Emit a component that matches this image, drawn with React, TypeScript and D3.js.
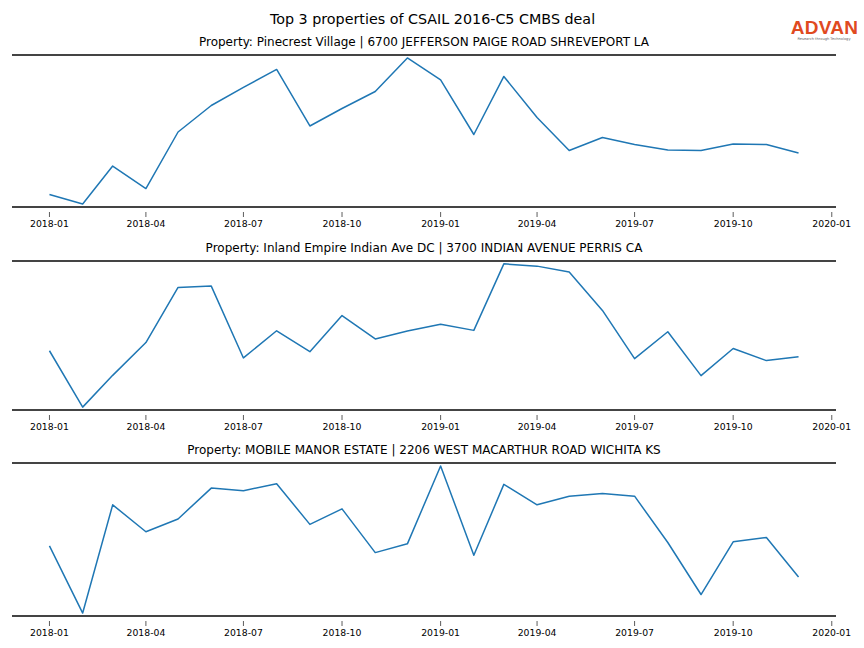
import React from "react";
import * as d3 from "d3";

const MONTHS: string[] = [
  "2018-01", "2018-02", "2018-03", "2018-04", "2018-05", "2018-06",
  "2018-07", "2018-08", "2018-09", "2018-10", "2018-11", "2018-12",
  "2019-01", "2019-02", "2019-03", "2019-04", "2019-05", "2019-06",
  "2019-07", "2019-08", "2019-09", "2019-10", "2019-11", "2019-12",
];

const TITLE = "Top 3 properties of CSAIL 2016-C5 CMBS deal";

const PROPERTY_TITLES: string[] = [
  "Property: Pinecrest Village | 6700 JEFFERSON PAIGE ROAD SHREVEPORT LA",
  "Property: Inland Empire Indian Ave DC | 3700 INDIAN AVENUE PERRIS CA",
  "Property: MOBILE MANOR ESTATE | 2206 WEST MACARTHUR ROAD WICHITA KS",
];

// relative visit index per month
const PINECREST: number[] = [
  12, 2.5, 40.5, 18, 74.5, 101, 119, 137, 80.5, 98, 115, 148.5,
  126.5, 72, 130, 89, 56, 69, 62, 56.5, 56, 62.5, 62, 53.5,
];
const INLAND_EMPIRE: number[] = [
  59, 1.7, 34, 67.3, 123.3, 124.7, 51.7, 79.3, 58, 94.7, 71, 79,
  86, 79.7, 147.3, 145, 139, 100, 51, 78.3, 33.7, 61.3, 49, 53,
];
const MOBILE_MANOR: number[] = [
  70, 3.3, 110.7, 84, 96.7, 127.3, 124.7, 131.7, 91.3, 106.7, 63.3, 72,
  149.3, 60.7, 131, 110.7, 119.3, 122, 119.3, 73.3, 21.7, 74, 78.3, 39,
];

const SERIES: number[][] = [PINECREST, INLAND_EMPIRE, MOBILE_MANOR];

const TICK_FORMAT = d3.timeFormat("%Y-%m");

const W = 864;
const H = 648;
const LEFT = 12;
const RIGHT = 836;
const PANEL_TOP: number[] = [55, 261, 463];
const PANEL_BOTTOM: number[] = [207, 410, 616];

export default function App() {
  const parse = d3.timeParse("%Y-%m");
  const dates = MONTHS.map((m) => parse(m) as Date);
  const [d0, d1] = d3.extent(dates) as [Date, Date];
  const span = d1.getTime() - d0.getTime();
  const x = d3
    .scaleTime()
    .domain([new Date(d0.getTime() - 0.05 * span), new Date(d1.getTime() + 0.05 * span)])
    .range([LEFT, RIGHT]);
  const ticks = d3.timeMonth.range(new Date(2018, 0, 1), new Date(2020, 0, 2), 3);

  return (
    <svg
      width={W}
      height={H}
      style={{ position: "absolute", left: 0, top: 0, background: "#fff" }}
      fontFamily="DejaVu Sans, sans-serif"
    >
      <text x={432.5} y={24} textAnchor="middle" fontSize={14.3} fill="#000">
        {TITLE}
      </text>
      <g>
        <text x={824.5} y={34} textAnchor="middle" fontSize={19} fontWeight="bold" fill="#e04a1f" fontFamily="Liberation Sans, Arial, sans-serif" letterSpacing={0.3}>
          ADVAN
        </text>
        <text x={824} y={40} textAnchor="middle" fontSize={3.6} fill="#666">
          Research through Technology
        </text>
      </g>
      {SERIES.map((vals, i) => {
        const top = PANEL_TOP[i];
        const bottom = PANEL_BOTTOM[i];
        const [mn, mx] = d3.extent(vals) as [number, number];
        const pad = (mx - mn) * 0.02;
        const y = d3.scaleLinear().domain([mn - pad, mx + pad]).range([bottom, top]);
        const line = d3
          .line<number>()
          .x((_, j) => x(dates[j]))
          .y((v) => y(v));
        return (
          <g key={i}>
            <text x={(LEFT + RIGHT) / 2} y={top - 9} textAnchor="middle" fontSize={12} fill="#000">
              {PROPERTY_TITLES[i]}
            </text>
            <path d={line(vals) || ""} fill="none" stroke="#1f77b4" strokeWidth={1.5} strokeLinejoin="round" />
            <line x1={LEFT} x2={RIGHT} y1={top} y2={top} stroke="#444" strokeWidth={2} />
            <line x1={LEFT} x2={RIGHT} y1={bottom} y2={bottom} stroke="#444" strokeWidth={2} />
            {ticks.map((t, k) => (
              <g key={k} transform={`translate(${x(t)},0)`}>
                <line y1={bottom + 5} y2={bottom + 10} stroke="#333" strokeWidth={0.8} />
                <text y={bottom + 19.5} textAnchor="middle" fontSize={9.3} fill="#000">
                  {TICK_FORMAT(t)}
                </text>
              </g>
            ))}
          </g>
        );
      })}
    </svg>
  );
}
